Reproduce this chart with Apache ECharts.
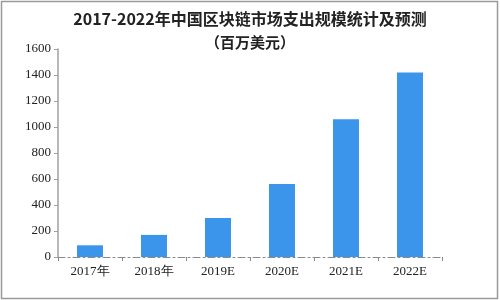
<!DOCTYPE html>
<html>
<head>
<meta charset="utf-8">
<script src="https://cdn.jsdelivr.net/npm/echarts@6/dist/echarts.min.js"></script>
<style>
html,body{margin:0;padding:0;background:#fff;}
#c{width:500px;height:300px;}
</style>
</head>
<body>
<div id="c"></div>
<script>
var categories = ['2017年', '2018年', '2019E', '2020E', '2021E', '2022E'];
var spending = [90, 170, 300, 562, 1060, 1420];
var titleText = '2017-2022年中国区块链市场支出规模统计及预测';
var subtitleText = '（百万美元）';

var chart = echarts.init(document.getElementById('c'), null, {renderer: 'canvas'});
chart.setOption({
  backgroundColor: '#ffffff',
  animation: false,
  title: {
    text: titleText,
    subtext: subtitleText,
    left: 'center',
    top: 6,
    itemGap: 8,
    textStyle: {fontFamily: 'Noto Sans CJK SC', fontSize: 16, fontWeight: 'bold', color: '#222'},
    subtextStyle: {fontFamily: 'Noto Sans CJK SC', fontSize: 15, fontWeight: 'bold', color: '#222'}
  },
  graphic: [{
    type: 'rect',
    shape: {x: 1.5, y: 1.5, width: 496, height: 297},
    style: {fill: 'none', stroke: '#9a9a9a', lineWidth: 1.5},
    silent: true
  }],
  grid: {left: 58, right: 58, top: 49, bottom: 43},
  xAxis: {
    type: 'category',
    data: categories,
    axisLine: {show: true, lineStyle: {color: '#8a8a8a', width: 1, type: [7, 3, 2, 3]}},
    axisTick: {show: true, length: 4, lineStyle: {color: '#8a8a8a'}},
    axisLabel: {fontFamily: 'Liberation Serif', fontSize: 13, color: '#222', margin: 8}
  },
  yAxis: {
    type: 'value',
    min: 0,
    max: 1600,
    interval: 200,
    axisLine: {show: true, lineStyle: {color: '#a0a0a0', width: 1.5}},
    axisTick: {show: true, length: 4, lineStyle: {color: '#a0a0a0'}},
    splitLine: {show: false},
    axisLabel: {fontFamily: 'Liberation Serif', fontSize: 13, color: '#222', margin: 7,
      formatter: function (v) { return String(v); }}
  },
  series: [{
    type: 'bar',
    data: spending,
    barWidth: 26,
    itemStyle: {color: '#3b95ea'}
  }]
});
</script>
</body>
</html>
